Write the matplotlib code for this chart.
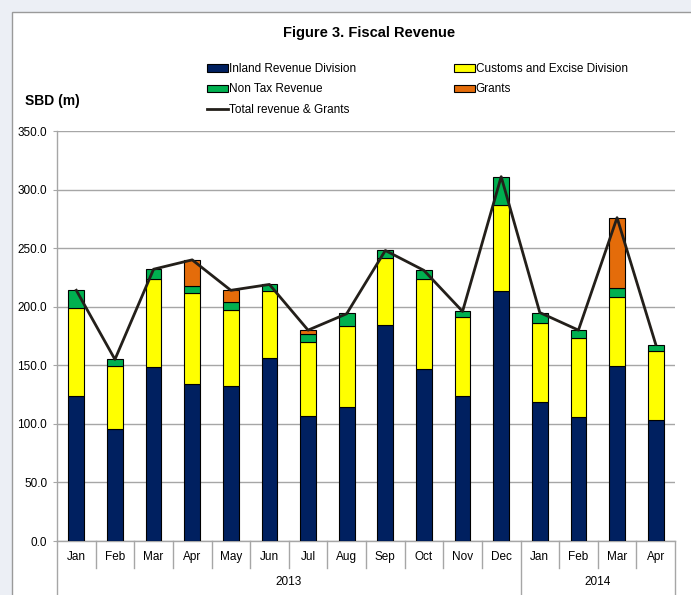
import numpy as np
import matplotlib
matplotlib.use("Agg")
import matplotlib.pyplot as plt
from matplotlib.patches import Rectangle, Patch
from matplotlib.lines import Line2D
import matplotlib.transforms as mtransforms

plt.rcParams['font.family'] = ['Liberation Sans', 'DejaVu Sans']

months = ["Jan", "Feb", "Mar", "Apr", "May", "Jun", "Jul", "Aug", "Sep", "Oct", "Nov", "Dec",
          "Jan", "Feb", "Mar", "Apr"]
years = ["2013", "2014"]
year_counts = [12, 4]

inland = [124.2, 95.2, 148.6, 134.1, 132.1, 156.0, 106.5, 114.2, 184.7, 146.9, 124.2, 213.7,
          119.0, 106.0, 149.4, 103.7]
customs = [74.7, 54.0, 75.3, 77.5, 64.8, 57.0, 63.1, 69.1, 57.1, 77.0, 67.0, 73.5,
           67.4, 67.6, 58.8, 58.8]
non_tax = [15.0, 5.9, 8.1, 6.0, 7.1, 6.0, 6.8, 11.1, 6.2, 7.1, 4.8, 23.8,
           8.2, 6.8, 7.4, 5.2]
grants = [0, 0, 0, 22.5, 9.9, 0, 4.0, 0, 0, 0, 0, 0,
          0, 0, 60.3, 0]
total = [214, 155, 232, 240, 214, 219, 180, 194, 248, 231, 196, 311,
         195, 180, 276, 168]

c_ird = "#002060"
c_cus = "#FFFF00"
c_ntr = "#00B050"
c_gra = "#E46C0A"
c_line = "#231F1A"

fig = plt.figure(figsize=(6.91, 5.95), dpi=100, facecolor="#eceff5")
fig.patches.append(Rectangle((12 / 691, -0.1), 1.2, 1 - 12 / 595 + 0.1, transform=fig.transFigure,
                             facecolor="white", edgecolor="#9a9a9a", lw=1.0, zorder=-10))

ax = fig.add_axes([57 / 691, 1 - 541 / 595, 618 / 691, 410 / 595])
ax.set_facecolor("white")

x = np.arange(len(months))
w = 0.41
b1 = np.array(inland)
b2 = b1 + np.array(customs)
b3 = b2 + np.array(non_tax)
kw = dict(width=w, edgecolor="black", linewidth=0.8, zorder=3)
ax.bar(x, inland, color=c_ird, **kw)
ax.bar(x, customs, bottom=b1, color=c_cus, **kw)
ax.bar(x, non_tax, bottom=b2, color=c_ntr, **kw)
g = np.array(grants)
ax.bar(x[g > 0], g[g > 0], bottom=b3[g > 0], color=c_gra, **kw)
ax.plot(x, total, color=c_line, lw=2.0, zorder=4)

ax.set_xlim(-0.5, len(months) - 0.5)
ax.set_ylim(0, 350)
ax.set_yticks(np.arange(0, 351, 50))
ax.set_yticklabels([f"{v:.1f}" for v in np.arange(0, 351, 50)], fontsize=8.5)
ax.yaxis.grid(True, color="#a6a6a6", lw=1.0)
ax.set_axisbelow(True)
ax.tick_params(axis="y", length=3, color="#a6a6a6", pad=4)
ax.set_xticks([])
for s in ["top", "right"]:
    ax.spines[s].set_visible(False)
for s in ["left", "bottom"]:
    ax.spines[s].set_color("#a6a6a6")
    ax.spines[s].set_linewidth(1.0)

# category axis with two levels
tr = mtransforms.blended_transform_factory(ax.transData, ax.transAxes)
edges = [-0.5]
for n in year_counts:
    edges.append(edges[-1] + n)
for i in range(1, len(months)):
    xe = i - 0.5
    if xe in edges:
        continue
    ax.plot([xe, xe], [0, -27 / 410], color="#a6a6a6", lw=1.0, transform=tr, clip_on=False)
for xe in edges:
    ax.plot([xe, xe], [0, -60 / 410], color="#a6a6a6", lw=1.0, transform=tr, clip_on=False)
for xi, m in zip(x, months):
    ax.text(xi, -16 / 410, m, transform=tr, ha="center", va="center", fontsize=8.5)
for i, yr in enumerate(years):
    ax.text((edges[i] + edges[i + 1]) / 2, -41 / 410, yr, transform=tr,
            ha="center", va="center", fontsize=8.5)

fig.text(369 / 691, 1 - 33 / 595, "Figure 3. Fiscal Revenue", ha="center", va="center",
         fontsize=10.5, fontweight="bold")
fig.text(25 / 691, 1 - 101 / 595, "SBD (m)", ha="left", va="center",
         fontsize=10, fontweight="bold")

left_handles = [
    Patch(facecolor=c_ird, edgecolor="black", lw=0.8, label="Inland Revenue Division"),
    Patch(facecolor=c_ntr, edgecolor="black", lw=0.8, label="Non Tax Revenue"),
    Line2D([], [], color=c_line, lw=2.0, label="Total revenue & Grants"),
]
right_handles = [
    Patch(facecolor=c_cus, edgecolor="black", lw=0.8, label="Customs and Excise Division"),
    Patch(facecolor=c_gra, edgecolor="black", lw=0.8, label="Grants"),
]
leg_kw = dict(loc="upper left", frameon=False, fontsize=8.5, handlelength=1.75,
              handleheight=0.6, handletextpad=0.1, labelspacing=0.72,
              borderaxespad=0, borderpad=0)
fig.legend(handles=left_handles, bbox_to_anchor=(207 / 691, 1 - 63 / 595), **leg_kw)
fig.legend(handles=right_handles, bbox_to_anchor=(454 / 691, 1 - 63 / 595), **leg_kw)

fig.savefig("out.png", dpi=100, facecolor=fig.get_facecolor())
